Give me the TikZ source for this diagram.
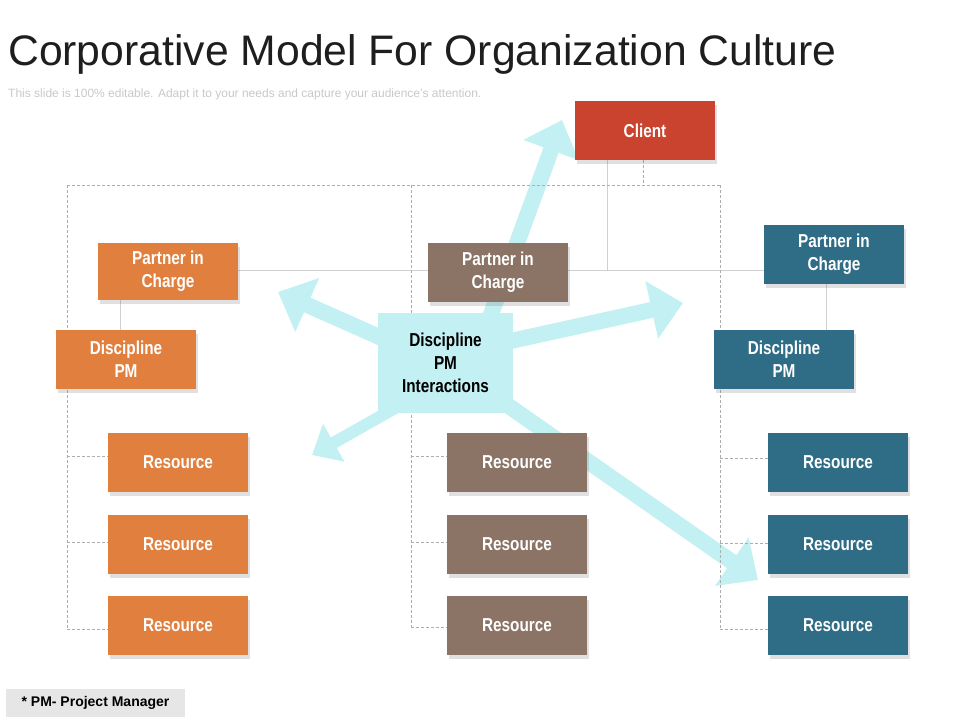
\documentclass[tikz,border=0pt]{standalone}
\usepackage{fontspec}
\setmainfont{Liberation Sans}
\newfontfamily\narrowfont{Liberation Sans}[FakeStretch=0.82]
\usetikzlibrary{arrows.meta,shadows}
\definecolor{orng}{HTML}{E07F3E}
\definecolor{brwn}{HTML}{8B7366}
\definecolor{tealbox}{HTML}{2F6C86}
\definecolor{clientred}{HTML}{C9432F}
\definecolor{cyanarrow}{HTML}{C3F0F3}
\definecolor{linegray}{HTML}{D0D0D0}
\definecolor{dashgray}{HTML}{AEAEAE}
\definecolor{titlegray}{HTML}{1E1E1E}
\definecolor{subgray}{HTML}{C8C8C8}
\definecolor{footgray}{HTML}{E6E6E6}
\pgfdeclarelayer{bg}
\pgfsetlayers{bg,main}
\tikzset{
  box/.style={minimum width=140pt, minimum height=59pt, inner sep=0pt, align=center,
    text=white, font={\narrowfont\bfseries\fontsize{18.7}{23}\selectfont},
    drop shadow={shadow xshift=2pt, shadow yshift=-4pt, opacity=0.2, fill=black!60}},
  centerbox/.style={minimum width=135pt, minimum height=100pt, inner sep=0pt, align=center,
    fill=cyanarrow, text=black, font={\narrowfont\bfseries\fontsize{18.7}{23}\selectfont}},
  arr/.style={line width=16pt, draw=cyanarrow, -{Triangle[length=32pt,width=57pt]}},
  smallarr/.style={line width=12pt, draw=cyanarrow, -{Triangle[length=25pt,width=42pt]}},
  solidln/.style={draw=linegray, line width=1pt},
  dashln/.style={draw=dashgray, line width=0.7pt, dash pattern=on 3pt off 2pt},
}
\begin{document}
\begin{tikzpicture}[x=1pt,y=-1pt]
\useasboundingbox (0,0) rectangle (960,720);

% title
\node[anchor=base west, inner sep=0pt, font={\fontsize{42.7}{50}\selectfont}, text=titlegray] (title) at (8,65) {Corporative Model For Organization Culture};
\node[anchor=base west, inner sep=0pt, font={\fontsize{12}{14}\selectfont}, text=subgray] (sub) at (8,97) {This slide is 100\% editable. Adapt it to your needs and capture your audience's attention.};

% boxes
\node[box, fill=clientred] (client) at (645,130.5) {Client};
\node[box, fill=orng, minimum height=57pt] (lpic) at (168,271.5) {Partner in\\Charge};
\node[box, fill=orng] (ldpm) at (126,359.5) {Discipline\\PM};
\node[box, fill=brwn] (mpic) at (498,272.5) {Partner in\\Charge};
\node[box, fill=tealbox] (rpic) at (834,254.5) {Partner in\\Charge};
\node[box, fill=tealbox] (rdpm) at (784,359.5) {Discipline\\PM};
\node[centerbox] (dpmi) at (445.5,363) {Discipline\\PM\\Interactions};

\node[box, fill=orng] (lr1) at (178,462.5) {Resource};
\node[box, fill=orng] (lr2) at (178,544) {Resource};
\node[box, fill=orng] (lr3) at (178,625.5) {Resource};
\node[box, fill=brwn] (mr1) at (517,462.5) {Resource};
\node[box, fill=brwn] (mr2) at (517,544) {Resource};
\node[box, fill=brwn] (mr3) at (517,625.5) {Resource};
\node[box, fill=tealbox] (rr1) at (838,462.5) {Resource};
\node[box, fill=tealbox] (rr2) at (838,544) {Resource};
\node[box, fill=tealbox] (rr3) at (838,625.5) {Resource};

% footnote
\node[fill=footgray, minimum width=179pt, minimum height=28pt, inner sep=0pt,
  font={\bfseries\fontsize{14}{16}\selectfont}] (note) at (95.5,703) {* PM- Project Manager};

\begin{pgfonlayer}{bg}
% arrows
\coordinate (a1s) at (467,380); \coordinate (a1t) at (562,120);
\coordinate (a2s) at (420,355); \coordinate (a2t) at (278,292);
\coordinate (a3s) at (470,350); \coordinate (a3t) at (683,303);
\coordinate (a4s) at (420,394); \coordinate (a4t) at (312,455);
\coordinate (a5s) at (490,393); \coordinate (a5t) at (758,580);
\draw[arr] (a1s) -- (a1t);
\draw[arr] (a2s) -- (a2t);
\draw[arr] (a3s) -- (a3t);
\draw[smallarr] (a4s) -- (a4t);
\draw[arr] (a5s) -- (a5t);

% solid lines
\draw[solidln] (lpic.east |- 0,270) -- (rpic.west |- 0,270);
\draw[solidln] ([xshift=-38pt]client.south) -- ([xshift=-38pt]client.south |- 0,270);
\draw[solidln] ([xshift=23pt]lpic.south west) -- ([xshift=23pt]lpic.south west |- ldpm.north);
\draw[solidln] ([xshift=-8pt]rpic.south) -- ([xshift=-8pt]rpic.south |- rdpm.north);

% dashed frame
\coordinate (dTL) at (67,185);
\coordinate (dTM) at (411,185);
\coordinate (dTR) at (720,185);
\draw[dashln] (dTL) -- (dTR);
\draw[dashln] ([xshift=-2pt]client.south) -- ([xshift=-2pt]client.south |- dTR);
\draw[dashln] (dTL) -- (67,629);
\draw[dashln] (67,456) -- (lr1.west |- 0,456);
\draw[dashln] (67,542) -- (lr2.west |- 0,542);
\draw[dashln] (67,629) -- (lr3.west |- 0,629);
\draw[dashln] (dTM) -- (411,627);
\draw[dashln] (411,456) -- (mr1.west |- 0,456);
\draw[dashln] (411,542) -- (mr2.west |- 0,542);
\draw[dashln] (411,627) -- (mr3.west |- 0,627);
\draw[dashln] (dTR) -- (720,629);
\draw[dashln] (720,458) -- (rr1.west |- 0,458);
\draw[dashln] (720,543) -- (rr2.west |- 0,543);
\draw[dashln] (720,629) -- (rr3.west |- 0,629);
\end{pgfonlayer}
\end{tikzpicture}
\end{document}
